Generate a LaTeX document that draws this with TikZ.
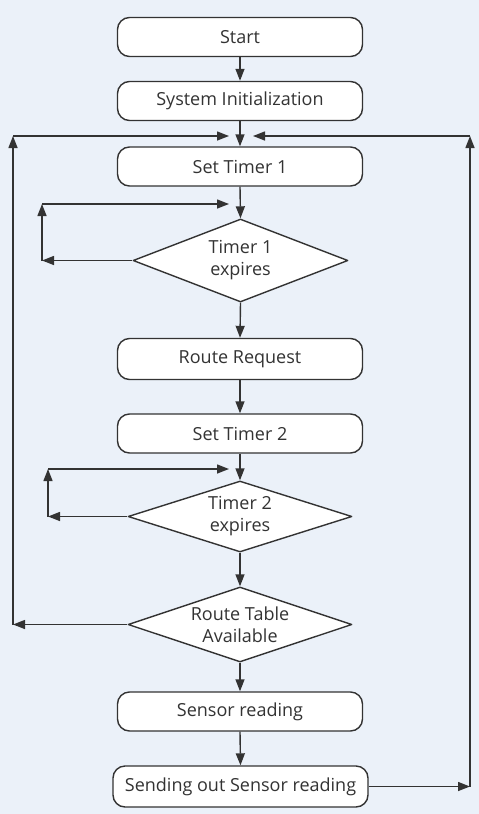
\documentclass[tikz,border=0pt]{standalone}
\usepackage{fontspec}
\setmainfont{Open Sans}
\usetikzlibrary{shapes.geometric,arrows.meta}
\definecolor{bgcol}{HTML}{EBF1F9}
\definecolor{linecol}{HTML}{333333}
\begin{document}
\begin{tikzpicture}[line join=round,>={Triangle[length=12pt,width=9pt]},x=1pt,y=-1pt,font=\fontsize{18}{22}\selectfont,
    box/.style={draw=linecol,fill=white,line width=1.4pt,rounded corners=12pt,minimum width=245pt,minimum height=39pt,inner sep=0pt,text=linecol},
    test/.style={draw=linecol,fill=white,line width=1.4pt,diamond,aspect=2.6,inner sep=0pt,align=center,text=linecol},
    link/.style={->,draw=linecol,line width=1.4pt}]
    %Background
    \fill[bgcol] (0,0) rectangle (479,814);
    \useasboundingbox (0,0) rectangle (479,814);
    %Steps of the flowchart
    \node[box] (start) at (240,37) {Start};
    \node[box] (init) at (240,101) {System Initialization};
    \node[box] (set1) at (240,166.5) {Set Timer 1};
    \node[test,minimum width=215pt,minimum height=83pt] (t1) at (240.5,260.5) {Timer 1\\expires};
    \node[box,minimum height=41pt] (req) at (240,359) {Route Request};
    \node[box] (set2) at (240,433.5) {Set Timer 2};
    \node[test,minimum width=224pt,minimum height=71pt] (t2) at (240,516.5) {Timer 2\\expires};
    \node[test,minimum width=224pt,minimum height=75pt] (avail) at (240,624.5) {Route Table\\Available};
    \node[box] (sense) at (240,711.5) {Sensor reading};
    \node[box,minimum width=255pt,minimum height=41pt] (send) at (240.5,786.5) {Sending out Sensor reading};
    %Corner points of the loops
    \coordinate (mergeL) at (229,136);
    \coordinate (mergeR) at (253,136);
    \coordinate (farL) at (13,624.5);
    \coordinate (farLtop) at (13,136);
    \coordinate (farR) at (470,786.5);
    \coordinate (farRtop) at (470,136);
    \coordinate (loopA) at (42,260.5);
    \coordinate (loopAtop) at (42,204);
    \coordinate (backA) at (229,204);
    \coordinate (loopB) at (48,516.5);
    \coordinate (loopBtop) at (48,469);
    \coordinate (backB) at (229,469);
    %Main line
    \foreach \a/\b in {start/init,init/set1,set1/t1,t1/req,req/set2,set2/t2,t2/avail,avail/sense,sense/send}
        \draw[link] (\a.south) -- (\b.north);
    %Waiting loops
    \draw[link] (t1.west) -- (loopA);
    \draw[link] (loopA) -- (loopAtop);
    \draw[link] (loopAtop) -- (backA);
    \draw[link] (t2.west) -- (loopB);
    \draw[link] (loopB) -- (loopBtop);
    \draw[link] (loopBtop) -- (backB);
    %Return to Set Timer 1
    \draw[link] (avail.west) -- (farL);
    \draw[link] (farL) -- (farLtop);
    \draw[link] (farLtop) -- (mergeL);
    \draw[link] (send.east) -- (farR);
    \draw[link] (farR) -- (farRtop);
    \draw[link] (farRtop) -- (mergeR);
\end{tikzpicture}
\end{document}
